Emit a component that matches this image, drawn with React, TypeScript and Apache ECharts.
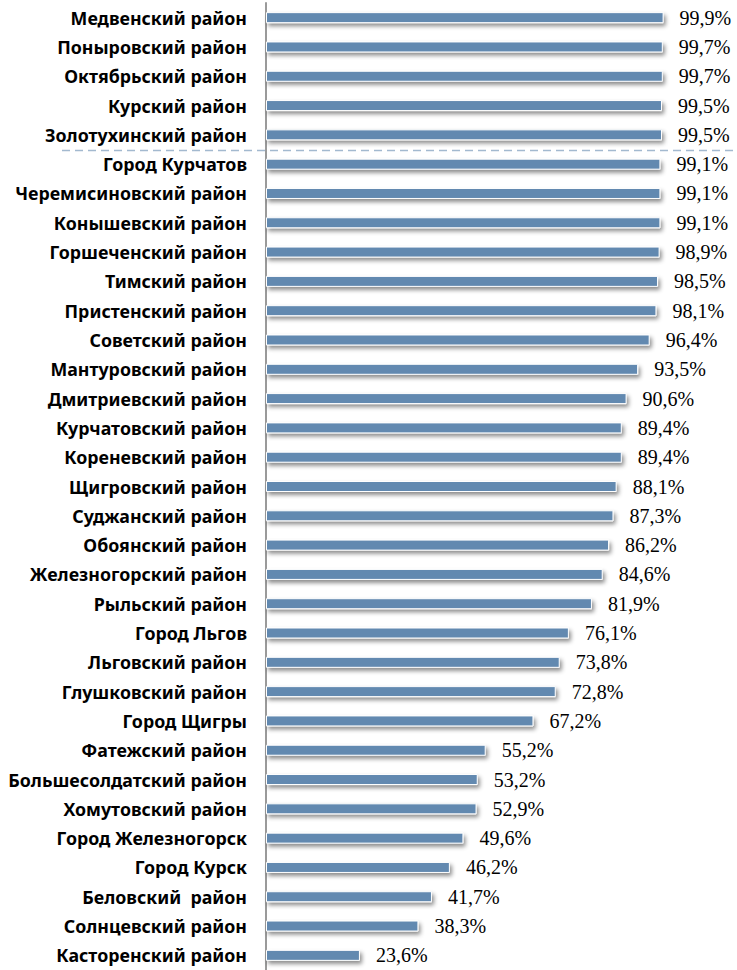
import React, { useEffect, useRef } from "react";
import * as echarts from "echarts";

const categories = [
  "Медвенский район",
  "Поныровский район",
  "Октябрьский район",
  "Курский район",
  "Золотухинский район",
  "Город Курчатов",
  "Черемисиновский район",
  "Конышевский район",
  "Горшеченский район",
  "Тимский район",
  "Пристенский район",
  "Советский район",
  "Мантуровский район",
  "Дмитриевский район",
  "Курчатовский район",
  "Кореневский район",
  "Щигровский район",
  "Суджанский район",
  "Обоянский район",
  "Железногорский район",
  "Рыльский район",
  "Город Льгов",
  "Льговский район",
  "Глушковский район",
  "Город Щигры",
  "Фатежский район",
  "Большесолдатский район",
  "Хомутовский район",
  "Город Железногорск",
  "Город Курск",
  "Беловский  район",
  "Солнцевский район",
  "Касторенский район",
];

const values = [
  99.9, 99.7, 99.7, 99.5, 99.5, 99.1, 99.1, 99.1, 98.9, 98.5, 98.1, 96.4, 93.5,
  90.6, 89.4, 89.4, 88.1, 87.3, 86.2, 84.6, 81.9, 76.1, 73.8, 72.8, 67.2, 55.2,
  53.2, 52.9, 49.6, 46.2, 41.7, 38.3, 23.6,
];

// dashed separator lies between these two category indices
const separatorAfter = 4;

export default function App() {
  const ref = useRef<HTMLDivElement>(null);
  useEffect(() => {
    if (!ref.current) return;
    const chart = echarts.init(ref.current, undefined, { renderer: "svg" });
    chart.setOption({
      animation: false,
      backgroundColor: "#ffffff",
      grid: { left: 266, right: 73, top: 3, bottom: -3, containLabel: false },
      xAxis: {
        type: "value",
        min: 0,
        max: 100,
        show: false,
      },
      yAxis: {
        type: "category",
        data: categories,
        inverse: true,
        axisLine: { show: true, lineStyle: { color: "#9a9a9a", width: 2 } },
        axisTick: { show: false },
        axisLabel: {
          margin: 19,
          color: "#000",
          fontWeight: "bold",
          fontSize: 17.8,
          fontFamily: "'Noto Sans', sans-serif",
        },
      },
      series: [
        {
          type: "bar",
          data: values,
          barWidth: 11,
          itemStyle: {
            color: "#6289b0",
            borderColor: "#ffffff",
            borderWidth: 1,
            shadowColor: "rgba(0,0,0,0.45)",
            shadowBlur: 4,
            shadowOffsetX: 2,
            shadowOffsetY: 3,
          },
          label: {
            show: true,
            position: "right",
            distance: 16,
            color: "#000",
            fontSize: 20,
            fontFamily: "'Liberation Serif', 'Times New Roman', serif",
            formatter: (p: any) => p.value.toFixed(1).replace(".", ",") + "%",
          },
        },
      ],
    });
    const y1 = chart.convertToPixel({ yAxisIndex: 0 }, categories[separatorAfter]) as number;
    const y2 = chart.convertToPixel({ yAxisIndex: 0 }, categories[separatorAfter + 1]) as number;
    const y = Math.round((y1 + y2) / 2) + 0.5;
    chart.setOption({
      graphic: [
        {
          type: "line",
          shape: { x1: 62, y1: y, x2: 737, y2: y },
          style: { stroke: "#a3b9cf", lineWidth: 1.5, lineDash: [8, 5] },
          z: 10,
        },
      ],
    });
    return () => chart.dispose();
  }, []);
  return (
    <div
      ref={ref}
      style={{ position: "fixed", left: 0, top: 0, width: 737, height: 970 }}
    />
  );
}
